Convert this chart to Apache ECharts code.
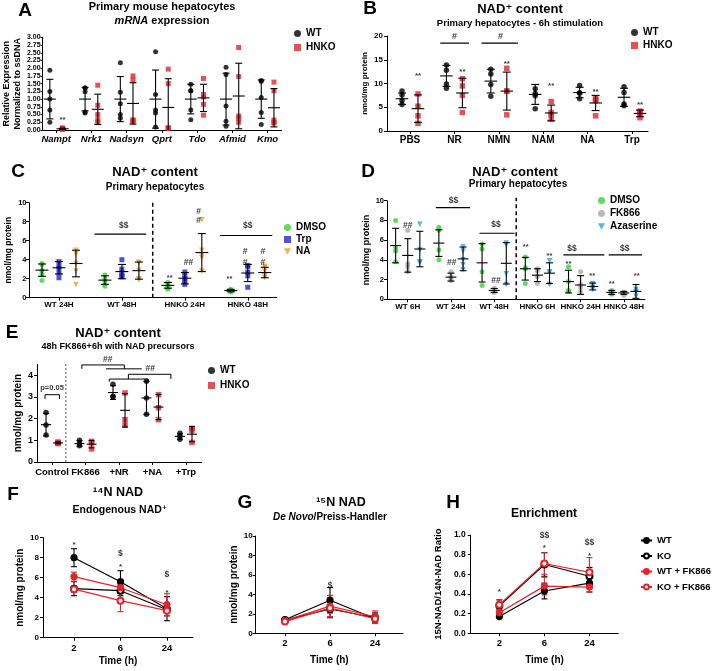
<!DOCTYPE html>
<html><head><meta charset="utf-8">
<script src="https://cdn.jsdelivr.net/npm/echarts@6/dist/echarts.min.js"></script>
<style>html,body{margin:0;padding:0;background:#fff}#c{width:713px;height:671px}</style>
</head><body><div id="c"></div>
<script>
const FONT = '"Liberation Sans", Arial, "DejaVu Sans", sans-serif';
const BLACK = '#000000', RED = '#e3242b', GREEN = '#33d633', BLUE = '#2424d8', ORANGE = '#f09a2c', GREY = '#a8a8a8', SKY = '#2aa4dc';
const DOWN_TRI = 'path://M0,0L10,0L5,9Z';

// ---------- Panel A ----------
const aCategories = ['Nampt', 'Nrk1', 'Nadsyn', 'Qprt', 'Tdo', 'Afmid', 'Kmo'];
const aWT = [[1.93,1.25,1.0,0.65,0.25],[1.37,1.35,1.24,0.58,0.55],[2.18,1.22,0.85,0.5,0.38],[2.53,1.15,0.65,0.55,0.1],[1.48,1.27,1.27,0.65,0.33],[2.03,1.8,0.78,0.28,0.12],[1.6,1.58,1.05,0.57,0.18]];
const aWTMean = [1,1,1,1,1,1,1];
const aWTSd = [0.64,0.38,0.73,0.94,0.48,0.84,0.62];
const aKO = [[0.07,0.05,0.04,0.03,0.02],[1.45,0.8,0.5,0.33,0.25],[1.75,1.62,0.33,0.3,0.28],[1.97,1.5,0.07,0.06,0.05],[1.67,1.15,1.07,0.83,0.48],[2.67,1.73,0.45,0.38,0.25],[1.55,1.27,0.32,0.25,0.22]];
const aKOMean = [0.04,0.67,0.86,0.73,1.04,1.1,0.72];
const aKOSd = [0.02,0.49,0.67,0.93,0.44,1.06,0.62];
const aStars = [{x:0.18, y:0.4, t:'**'}];

// ---------- Panel B ----------
const bCategories = ['PBS', 'NR', 'NMN', 'NAM', 'NA', 'Trp'];
const bWT = [[8.4,7.6,6.4,5.6],[13.9,12.8,9.9,9.0],[13.0,12.0,9.8,7.3],[8.9,7.9,7.4,4.7],[9.6,8.0,8.0,6.8],[9.3,8.1,5.7,5.3]];
const bWTMean = [6.8,11.6,10.5,7.7,8.1,7.1];
const bWTSd = [1.2,2.2,2.5,2.1,1.1,1.9];
const bKO = [[7.8,5.2,3.2,1.6],[11.0,9.5,7.5,3.9],[13.2,8.4,8.4,3.4],[6.2,3.9,3.5,2.5],[6.9,6.6,6.4,3.2],[4.2,4.0,3.7,2.8]];
const bKOMean = [4.7,8.0,8.4,3.8,5.9,3.7];
const bKOSd = [2.9,3.1,4.0,1.65,1.6,0.7];
const bStars = [{x:0.18,y:12.0,t:'**'},{x:1.18,y:12.8,t:'**'},{x:2.18,y:14.5,t:'**'},{x:3.18,y:9.9,t:'**'},{x:4.18,y:8.7,t:'**'},{x:5.18,y:6.0,t:'**'}];
const bSigns = [{x:1.0,y:19.9,t:'#'},{x:2.04,y:19.9,t:'#'}];
const bBars = [[[0.68,18.5],[1.33,18.5]],[[1.61,18.5],[2.43,18.5]]];

// ---------- Panel C ----------
const cCategories = ['WT 24H', 'WT 48H', 'HNKO 24H', 'HNKO 48H'];
const cDMSO = [[3.6,3.5,2.9,2.5,1.8],[2.4,2.0,1.8,1.5,1.2],[1.6,1.4,1.2,1.1,0.9],[0.9,0.8,0.7,0.65,0.6]];
const cDMSOMean = [2.9,1.85,1.3,0.75];
const cDMSOSd = [0.65,0.45,0.3,0.13];
const cTrp = [[3.8,3.3,3.1,2.6,2.1],[4.0,3.0,2.6,2.3,2.2],[2.7,2.3,2.0,1.7,1.4],[3.4,3.3,2.7,2.3,1.1]];
const cTrpMean = [3.15,2.75,2.05,2.6];
const cTrpSd = [0.65,0.75,0.6,0.9];
const cNA = [[5.0,4.6,3.6,2.8,1.4],[3.7,3.7,2.9,2.0,1.9],[8.2,5.0,4.5,4.2,2.8],[3.3,3.2,2.8,2.3,2.1]];
const cNAMean = [3.6,2.85,4.75,2.65];
const cNASd = [1.4,0.9,2.0,0.55];
const cStars = [{x:1.76,y:2.3,t:'**'},{x:2.71,y:2.2,t:'**'}];
const cSigns = [{x:2.06,y:3.72,t:'##'},{x:2.22,y:9.05,t:'#'},{x:2.22,y:8.07,t:'#'},{x:2.96,y:4.84,t:'#'},{x:2.96,y:3.72,t:'#'},{x:3.24,y:4.84,t:'#'},{x:3.24,y:3.72,t:'#'},{x:1.03,y:7.6,t:'$$'},{x:3.0,y:7.6,t:'$$'}];
const cBars = [[[0.566,6.7],[1.386,6.7]],[[2.56,6.55],[3.39,6.55]]];
const cDivider = [[[1.49,0],[1.49,10.3]]];

// ---------- Panel D ----------
const dCategories = ['WT 6H', 'WT 24H', 'WT 48H', 'HNKO 6H', 'HNKO 24H', 'HNKO 48H'];
const dDMSO = [[8.0,5.2,4.9,3.8],[7.3,7.0,5.0,4.0],[5.6,5.1,2.8,1.4],[4.3,3.2,3.1,1.6],[3.3,1.8,0.9,0.8],[0.9,0.8,0.6,0.5]];
const dDMSOMean = [5.45,5.7,3.7,3.1,1.8,0.7];
const dDMSOSd = [1.75,1.35,1.95,1.15,1.15,0.2];
const dFK866 = [[7.0,3.6,3.3,2.8],[2.8,2.3,2.1,1.9],[1.1,0.9,0.8,0.7],[3.1,2.9,2.3,1.6],[2.8,1.5,1.2,0.8],[0.75,0.7,0.6,0.4]];
const dFK866Mean = [4.45,2.25,0.9,2.45,1.45,0.65];
const dFK866Sd = [1.7,0.4,0.2,0.65,0.95,0.15];
const dAza = [[7.6,5.0,3.8,3.7],[5.3,4.9,4.0,3.5,3.0],[5.7,5.5,2.6,1.5],[3.9,2.8,2.7,1.5],[1.6,1.4,1.2,1.0],[1.0,0.8,0.7,0.3]];
const dAzaMean = [5.1,4.1,3.65,2.65,1.3,0.8];
const dAzaSd = [1.8,1.2,2.1,1.05,0.35,0.7];
const dStars = [{x:2.73,y:5.5,t:'**'},{x:3.28,y:4.56,t:'**'},{x:3.72,y:3.82,t:'**'},{x:4.27,y:2.57,t:'**'},{x:4.72,y:1.72,t:'**'},{x:5.3,y:2.57,t:'**'}];
const dSigns = [{x:0,y:7.47,t:'##'},{x:1.02,y:3.75,t:'##'},{x:2.04,y:1.86,t:'##'},{x:1.06,y:9.97,t:'$$'},{x:2.04,y:7.53,t:'$$'},{x:3.8,y:5.1,t:'$$'},{x:5.02,y:5.1,t:'$$'}];
const dBars = [[[0.65,9.3],[1.44,9.3]],[[1.66,6.7],[2.47,6.7]],[[3.6,4.5],[4.55,4.5]],[[4.65,4.5],[5.42,4.5]]];
const dDivider = [[[2.51,0],[2.51,10.3]]];

// ---------- Panel E ----------
const eCategories = ['Control', 'FK866', '+NR', '+NA', '+Trp'];
const eYTicks = [0,1,2,3,4];
const eWT = [[2.28,1.7,1.24],[1.0,0.85,0.75],[3.58,3.03,3.0],[3.72,2.95,2.2],[1.32,1.2,1.05]];
const eWTMean = [1.72,0.85,3.2,2.95,1.18];
const eWTSd = [0.52,0.13,0.32,0.76,0.13];
const eKO = [[0.92,0.88,0.85],[0.95,0.88,0.6],[3.18,1.95,1.7],[3.1,2.5,1.95],[1.55,1.45,0.9]];
const eKOMean = [0.88,0.82,2.38,2.53,1.28];
const eKOSd = [0.04,0.17,0.77,0.58,0.35];
const eSigns = [{x:1.66,y:4.7,t:'##'},{x:2.93,y:4.32,t:'##'}];
const eP = [{x:0,y:3.42,t:'p=0.05'}];
const eBrackets = [
  [[-0.21,2.9],[-0.21,3.1],[0.22,3.1],[0.22,2.9]],
  [[0.89,4.29],[0.89,4.47],[2.16,4.47],[2.16,4.29]],
  [[1.61,4.29],[2.68,4.29]],
  [[2.28,3.82],[2.28,4.04],[3.55,4.04],[3.55,3.82]],
  [[1.71,3.70],[1.71,3.82],[2.87,3.82],[2.87,3.70]]
];
const eDivider = [[[0.41,0],[0.41,4.55]]];

// ---------- Panels F, G, H ----------
const timeLabels = ['2', '6', '24'];
const fWT = [8.0,5.6,2.9],   fWTErr = [0.9,1.1,1.2];
const fKO = [4.9,4.7,2.8],   fKOErr = [0.7,0.5,0.6];
const fWTFK = [6.1,5.0,3.3], fWTFKErr = [0.45,0.35,1.1];
const fKOFK = [4.85,3.7,2.7], fKOFKErr = [0.3,1.1,0.5];
const fStars = [{x:0,y:9.5,t:'*'},{x:1,y:7.3,t:'*'},{x:2,y:4.7,t:'*'}];
const fSigns = [{x:1,y:8.4,t:'$'},{x:2,y:6.3,t:'$'}];

const gWT = [1.4,3.4,1.5],   gWTErr = [0.2,1.3,0.4];
const gKO = [1.35,2.5,1.6],  gKOErr = [0.15,0.9,0.5];
const gWTFK = [1.3,2.8,1.7], gWTFKErr = [0.2,1.1,0.6];
const gKOFK = [1.2,2.6,1.5], gKOFKErr = [0.15,0.9,0.5];
const gSigns = [{x:1,y:4.9,t:'$'}];

const hWT = [0.17,0.43,0.51],   hWTErr = [0.01,0.08,0.09];
const hKO = [0.28,0.70,0.58],   hKOErr = [0.06,0.12,0.09];
const hWTFK = [0.21,0.48,0.47], hWTFKErr = [0.03,0.09,0.05];
const hKOFK = [0.29,0.71,0.62], hKOFKErr = [0.05,0.11,0.15];
const hStars = [{x:0,y:0.44,t:'*'},{x:1,y:0.89,t:'*'},{x:2,y:0.81,t:'*'}];
const hSigns = [{x:1,y:0.99,t:'$$'},{x:2,y:0.92,t:'$$'}];

// ---------- builders ----------
const option = {animation:false, backgroundColor:'#ffffff', grid:[], xAxis:[], yAxis:[], series:[], legend:[], graphic:[]};

function addPanel(p) {
  const gi = option.grid.length;
  const idx = p.cats.map((c, i) => i);
  option.grid.push({left:p.left, top:p.top, width:p.right - p.left, height:p.bottom - p.top});
  option.xAxis.push({
    type:'value', gridIndex:gi, min:p.xmin, max:p.xmax,
    axisLine:{show:true, onZero:false, lineStyle:{color:'#000', width:1}},
    axisTick:{show:true, length:3, customValues:idx, lineStyle:{color:'#000', width:1}},
    axisLabel:{customValues:idx, formatter:v => p.cats[Math.round(v)], color:'#000', fontWeight:'bold',
      fontSize:p.xFont, fontStyle:p.xItalic ? 'italic' : 'normal', fontFamily:FONT, margin:p.xMargin},
    splitLine:{show:false},
    name:p.xName || '', nameLocation:'middle', nameGap:p.xNameGap || 20,
    nameTextStyle:{color:'#000', fontWeight:'bold', fontSize:10, fontFamily:FONT}
  });
  const y = {
    type:'value', gridIndex:gi, min:p.ymin, max:p.ymax,
    axisLine:{show:true, onZero:false, lineStyle:{color:'#000', width:1}},
    axisTick:{show:true, length:p.yTickLen || 3, lineStyle:{color:'#000', width:1}},
    axisLabel:{color:'#000', fontWeight:'bold', fontSize:p.yFont, fontFamily:FONT, margin:p.yMargin, formatter:p.yFmt},
    splitLine:{show:false},
    name:p.yName, nameLocation:'middle', nameRotate:90, nameGap:p.yNameGap,
    nameTextStyle:{color:'#000', fontWeight:'bold', fontSize:p.yNameFont, fontFamily:FONT, lineHeight:p.yNameFont + 2, align:'center'}
  };
  if (p.yTicks) { y.axisTick.customValues = p.yTicks; y.axisLabel.customValues = p.yTicks; }
  else y.interval = p.yInterval;
  option.yAxis.push(y);
  return gi;
}

function dots(gi, name, pts, off, symbol, color, size) {
  option.series.push({type:'scatter', name, xAxisIndex:gi, yAxisIndex:gi, symbol, symbolSize:size,
    itemStyle:{color}, clip:false, z:2,
    data: pts.flatMap((arr, i) => arr.map(v => [i + off, v]))});
}

function errBars(gi, mean, sd, off, halfMean, halfCap, ymin, color) {
  option.series.push({type:'custom', xAxisIndex:gi, yAxisIndex:gi, silent:true, z:3, clip:false,
    data: mean.map((m, i) => [i + off, m, Math.max(ymin, m - sd[i]), m + sd[i]]),
    renderItem: (params, api) => {
      const x = api.value(0), m = api.value(1), lo = api.value(2), hi = api.value(3);
      const pm = api.coord([x, m]), pl = api.coord([x, lo]), ph = api.coord([x, hi]);
      const st = {stroke:color, lineWidth:1.1};
      const ch = [];
      if (halfMean > 0) ch.push({type:'line', shape:{x1:pm[0]-halfMean, y1:pm[1], x2:pm[0]+halfMean, y2:pm[1]}, style:st});
      ch.push({type:'line', shape:{x1:ph[0], y1:ph[1], x2:pl[0], y2:pl[1]}, style:st});
      ch.push({type:'line', shape:{x1:ph[0]-halfCap, y1:ph[1], x2:ph[0]+halfCap, y2:ph[1]}, style:st});
      if (lo > ymin) ch.push({type:'line', shape:{x1:pl[0]-halfCap, y1:pl[1], x2:pl[0]+halfCap, y2:pl[1]}, style:st});
      return {type:'group', children:ch};
    }});
}

function segs(gi, list, color, width, type) {
  option.series.push({type:'lines', coordinateSystem:'cartesian2d', xAxisIndex:gi, yAxisIndex:gi,
    polyline:true, silent:true, clip:false, z:3,
    lineStyle:{color, width, type:type || 'solid', opacity:1},
    data:list.map(c => ({coords:c}))});
}

function texts(gi, list, size, dy) {
  option.series.push({type:'scatter', xAxisIndex:gi, yAxisIndex:gi, symbolSize:1, silent:true, clip:false, z:4,
    itemStyle:{color:'rgba(0,0,0,0)'},
    data:list.map(a => ({value:[a.x, a.y], name:a.t})),
    label:{show:true, position:'inside', formatter:p => p.name, color:'#000', fontSize:size, fontWeight:'bold',
      fontFamily:FONT, offset:[0, dy || 0]}});
}

function curve(gi, name, vals, errs, color, empty) {
  option.series.push({type:'line', name, xAxisIndex:gi, yAxisIndex:gi, z:3,
    data:vals.map((v, i) => [i, v]),
    symbol: empty ? 'emptyCircle' : 'circle', symbolSize:6,
    itemStyle:{color, borderColor:color, borderWidth:1.2},
    lineStyle:{color, width:1.2}});
  errBars(gi, vals, errs, 0, 0, 3, 0, color);
}

function legend(names, left, top, gap, iw, ih, fs) {
  option.legend.push({data:names, left, top, orient:'vertical', itemGap:gap, itemWidth:iw, itemHeight:ih,
    selectedMode:false, padding:0, formatter:n => n.split('|')[0],
    textStyle:{color:'#000', fontWeight:'bold', fontSize:fs || 10, fontFamily:FONT, lineHeight:11}});
}

function label(text, x, y, size, extra) {
  option.graphic.push({type:'text', x, y, silent:true, style:Object.assign({text, fill:'#000', fontSize:size,
    fontWeight:'bold', fontFamily:FONT, textAlign:'center', align:'center', textVerticalAlign:'middle',
    verticalAlign:'middle'}, extra || {})});
}

// ---------- Panel A ----------
let g = addPanel({cats:aCategories, left:42, top:37.3, right:281.7, bottom:130, xmin:-0.388, xmax:6.4,
  ymin:0, ymax:3, yInterval:0.25, yFmt:v => v.toFixed(2), yFont:7, yMargin:2, yTickLen:2,
  xFont:9.5, xItalic:true, xMargin:4,
  yName:'Relative Expression\nNormalized to ssDNA', yNameGap:19, yNameFont:9});
dots(g, 'WT|A', aWT, -0.18, 'circle', BLACK, 5);
dots(g, 'HNKO|A', aKO, 0.18, 'rect', RED, 5);
errBars(g, aWTMean, aWTSd, -0.18, 6, 3.5, 0, BLACK);
errBars(g, aKOMean, aKOSd, 0.18, 6, 3.5, 0, BLACK);
texts(g, aStars, 8, 2);
legend(['WT|A', 'HNKO|A'], 294, 28, 3, 7, 7);

// ---------- Panel B ----------
g = addPanel({cats:bCategories, left:387, top:36, right:648, bottom:131, xmin:-0.518, xmax:5.36,
  ymin:0, ymax:20, yInterval:5, yFont:8, yMargin:4, xFont:10, xMargin:4,
  yName:'nmol/mg protein', yNameGap:13, yNameFont:8});
dots(g, 'WT|B', bWT, -0.18, 'circle', BLACK, 5.5);
dots(g, 'HNKO|B', bKO, 0.18, 'rect', RED, 5.5);
errBars(g, bWTMean, bWTSd, -0.18, 6.3, 4, 0, BLACK);
errBars(g, bKOMean, bKOSd, 0.18, 6.3, 4, 0, BLACK);
segs(g, bBars, BLACK, 1.2);
texts(g, bStars, 8, 2);
texts(g, bSigns, 9, 0);
legend(['WT|B', 'HNKO|B'], 631, 27, 2, 7, 7);

// ---------- Panel C ----------
g = addPanel({cats:cCategories, left:29, top:202.7, right:276.7, bottom:297.7, xmin:-0.476, xmax:3.46,
  ymin:0, ymax:10, yInterval:2, yFont:7.5, yMargin:2.5, xFont:8, xMargin:3.5,
  yName:'nmol/mg protein', yNameGap:9, yNameFont:8.5});
dots(g, 'DMSO|C', cDMSO, -0.27, 'circle', GREEN, 5);
dots(g, 'Trp|C', cTrp, 0, 'rect', BLUE, 5);
dots(g, 'NA|C', cNA, 0.27, DOWN_TRI, ORANGE, 5.5);
errBars(g, cDMSOMean, cDMSOSd, -0.27, 6.5, 4, 0, BLACK);
errBars(g, cTrpMean, cTrpSd, 0, 6.5, 4, 0, BLACK);
errBars(g, cNAMean, cNASd, 0.27, 6.5, 4, 0, BLACK);
segs(g, cBars, BLACK, 1.2);
segs(g, cDivider, BLACK, 1.5, [4, 3]);
texts(g, cStars, 7.5, 2);
texts(g, cSigns, 8.5, 0);
legend(['DMSO|C', 'Trp|C', 'NA|C'], 284, 222, 1, 7, 7);

// ---------- Panel D ----------
g = addPanel({cats:dCategories, left:387, top:200.7, right:645, bottom:299.3, xmin:-0.48, xmax:5.49,
  ymin:0, ymax:10, yInterval:2, yFont:7.5, yMargin:3, xFont:8, xMargin:3,
  yName:'nmol/mg protein', yNameGap:12, yNameFont:9});
dots(g, 'DMSO|D', dDMSO, -0.28, 'circle', GREEN, 5);
dots(g, 'FK866|D', dFK866, 0, 'circle', GREY, 5);
dots(g, 'Azaserine|D', dAza, 0.28, DOWN_TRI, SKY, 5.5);
errBars(g, dDMSOMean, dDMSOSd, -0.28, 5.5, 3.5, 0, BLACK);
errBars(g, dFK866Mean, dFK866Sd, 0, 5.5, 3.5, 0, BLACK);
errBars(g, dAzaMean, dAzaSd, 0.28, 5.5, 3.5, 0, BLACK);
segs(g, dBars, BLACK, 1.2);
segs(g, dDivider, BLACK, 1.5, [4, 3]);
texts(g, dStars, 7.5, 2);
texts(g, dSigns, 8.5, 0);
legend(['DMSO|D', 'FK866|D', 'Azaserine|D'], 598, 195, 2, 7, 7);

// ---------- Panel E ----------
g = addPanel({cats:eCategories, left:37, top:364.3, right:201.7, bottom:462, xmin:-0.45, xmax:4.47,
  ymin:0, ymax:4.5, yTicks:eYTicks, yFont:9, yMargin:4, xFont:9.5, xMargin:5,
  yName:'nmol/mg protein', yNameGap:12, yNameFont:10});
dots(g, 'WT|E', eWT, -0.18, 'circle', BLACK, 5.5);
dots(g, 'HNKO|E', eKO, 0.18, 'rect', RED, 5.5);
errBars(g, eWTMean, eWTSd, -0.18, 5, 3, 0, BLACK);
errBars(g, eKOMean, eKOSd, 0.18, 5, 3, 0, BLACK);
segs(g, eBrackets, BLACK, 1);
segs(g, eDivider, '#777777', 1.2, [2, 2]);
texts(g, eSigns, 8.5, 0);
texts(g, eP, 7.5, 0);
legend(['WT|E', 'HNKO|E'], 208, 365, 4, 7, 7);

// ---------- Panel F ----------
g = addPanel({cats:timeLabels, left:43, top:537.7, right:193, bottom:637.7, xmin:-0.667, xmax:2.56,
  ymin:0, ymax:10, yInterval:2, yFont:8, yMargin:4, xFont:9.5, xMargin:6,
  xName:'Time (h)', xNameGap:19,
  yName:'nmol/mg protein', yNameGap:13, yNameFont:10});
curve(g, 'WT|F', fWT, fWTErr, BLACK, false);
curve(g, 'KO|F', fKO, fKOErr, BLACK, true);
curve(g, 'WT + FK866|F', fWTFK, fWTFKErr, RED, false);
curve(g, 'KO + FK866|F', fKOFK, fKOFKErr, RED, true);
texts(g, fStars, 8, 2);
texts(g, fSigns, 8.5, 0);

// ---------- Panel G ----------
g = addPanel({cats:timeLabels, left:255.7, top:536, right:403, bottom:633.3, xmin:-0.65, xmax:2.62,
  ymin:0, ymax:10, yInterval:2, yFont:8, yMargin:3, xFont:9.5, xMargin:5,
  xName:'Time (h)', xNameGap:22,
  yName:'nmol/mg protein', yNameGap:11, yNameFont:10});
curve(g, 'WT|G', gWT, gWTErr, BLACK, false);
curve(g, 'KO|G', gKO, gKOErr, BLACK, true);
curve(g, 'WT + FK866|G', gWTFK, gWTFKErr, RED, false);
curve(g, 'KO + FK866|G', gKOFK, gKOFKErr, RED, true);
texts(g, gSigns, 8.5, 0);

// ---------- Panel H ----------
g = addPanel({cats:timeLabels, left:470.7, top:535, right:618.3, bottom:633.3, xmin:-0.636, xmax:2.64,
  ymin:0, ymax:1, yInterval:0.2, yFmt:v => v.toFixed(1), yFont:8.5, yMargin:5, xFont:9.5, xMargin:5,
  xName:'Time (h)', xNameGap:22,
  yName:'15N-NAD/14N-NAD Ratio', yNameGap:27, yNameFont:9.5});
curve(g, 'WT|H', hWT, hWTErr, BLACK, false);
curve(g, 'KO|H', hKO, hKOErr, BLACK, true);
curve(g, 'WT + FK866|H', hWTFK, hWTFKErr, RED, false);
curve(g, 'KO + FK866|H', hKOFK, hKOFKErr, RED, true);
texts(g, hStars, 8, 2);
texts(g, hSigns, 8.5, 0);
legend(['WT|H', 'KO|H', 'WT + FK866|H', 'KO + FK866|H'], 640, 535, 4.5, 11, 6, 9.5);

// ---------- titles and panel letters ----------
const ital = {rich:{i:{fontStyle:'italic', fontWeight:'bold', fontSize:11, fontFamily:FONT, fill:'#000'}}};
label('A', 25, 11, 19); label('B', 370, 9, 19); label('C', 18, 172, 19); label('D', 368, 172, 19);
label('E', 12, 333, 19); label('F', 13, 495, 19); label('G', 245, 503, 19); label('H', 453, 503, 19);
label('Primary mouse hepatocytes', 162, 7, 11);
label('{i|mRNA} expression', 162, 20.5, 11, ital);
label('NAD\u207A content', 520, 9, 13);
label('Primary hepatocytes - 6h stimulation', 520, 23, 9.5);
label('NAD\u207A content', 155, 172, 13);
label('Primary hepatocytes', 155, 187, 10);
label('NAD\u207A content', 515, 172, 13);
label('Primary hepatocytes', 518, 184, 10);
label('NAD\u207A content', 118, 333, 13);
label('48h FK866+6h with NAD precursors', 118, 347, 9);
label('\u00B9\u2074N NAD', 118, 493, 12.5);
label('Endogenous NAD\u207A', 120, 510.5, 10.5);
label('\u00B9\u2075N NAD', 341, 503, 12.5);
label('{i|De Novo}/Preiss-Handler', 330, 517, 10, {rich:{i:{fontStyle:'italic', fontWeight:'bold', fontSize:10, fontFamily:FONT, fill:'#000'}}});
label('Enrichment', 544, 514, 12);

const chart = echarts.init(document.getElementById('c'), null, {renderer:'canvas'});
chart.setOption(option);
</script></body></html>
